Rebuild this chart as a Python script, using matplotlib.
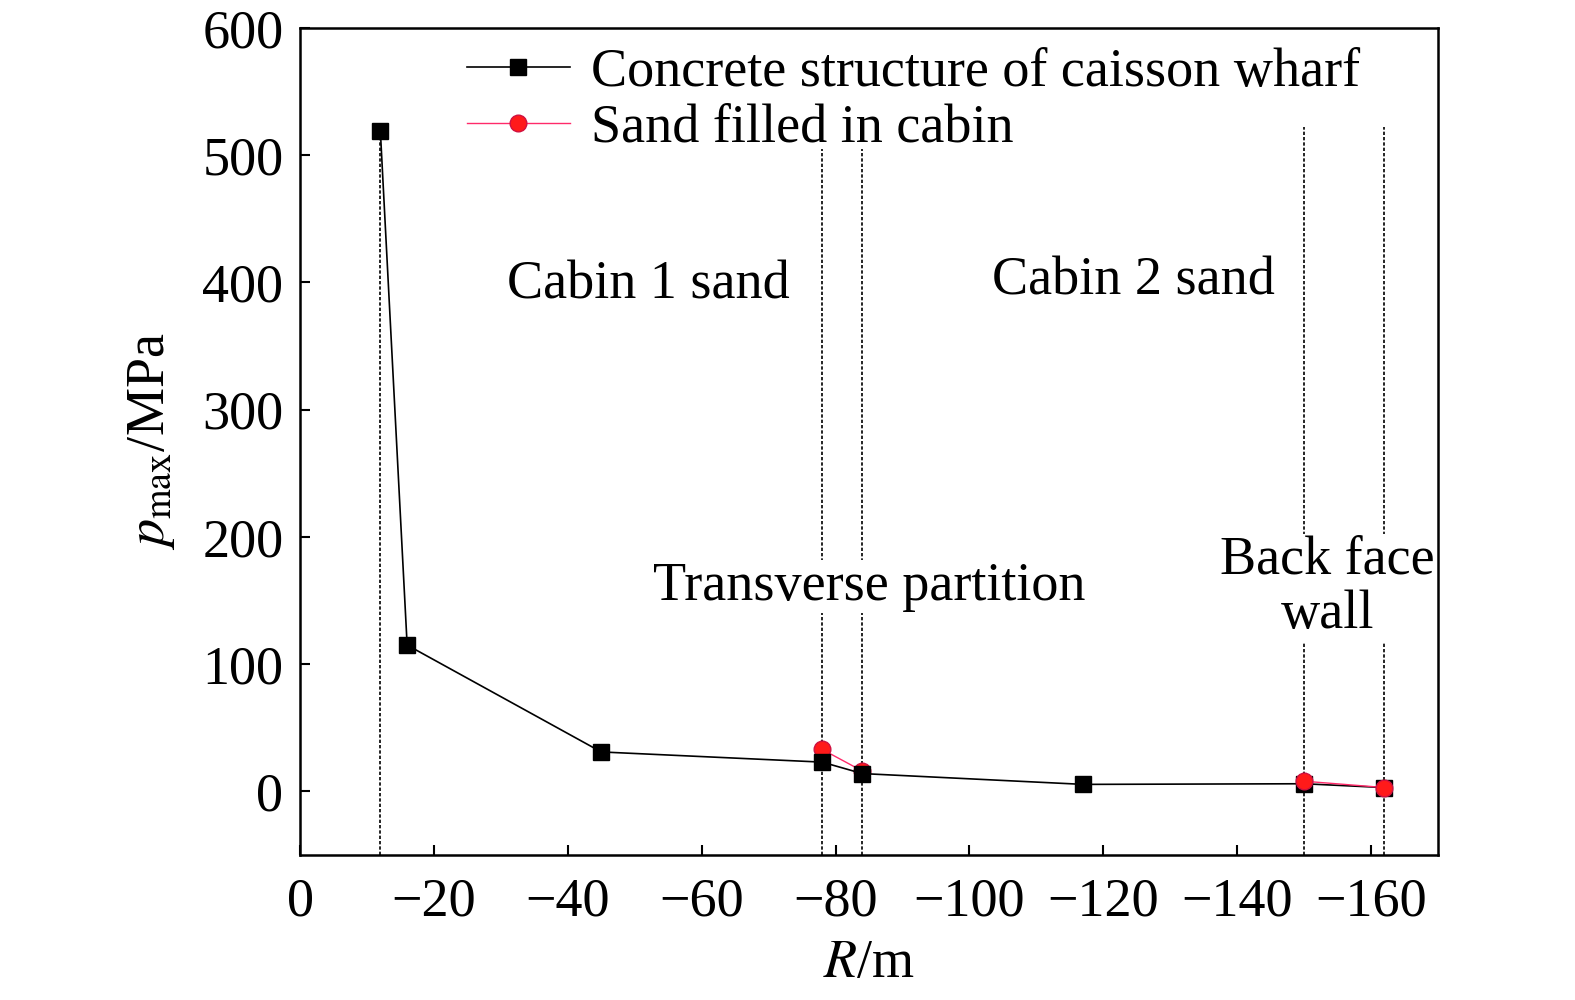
import matplotlib
matplotlib.use("Agg")
import matplotlib.pyplot as plt

# Data
concrete_R = [-12, -16, -45, -78, -84, -117, -150, -162]
concrete_p = [519, 115, 31, 23, 14, 5.5, 6, 3]
sand1_R = [-78, -84]
sand1_p = [33, 16]
sand2_R = [-150, -162]
sand2_p = [8, 3]
boundary_R = [-12, -78, -84, -150, -162]
boundary_top = [520, 505, 505, 522, 522]
xticks = [0, -20, -40, -60, -80, -100, -120, -140, -160]
yticks = [0, 100, 200, 300, 400, 500, 600]

plt.rcParams['font.family'] = ['Liberation Serif', 'DejaVu Serif']
plt.rcParams['mathtext.fontset'] = 'stix'
FS = 39
bg = 'white'

fig = plt.figure(figsize=(15.75, 10), dpi=100, facecolor=bg)
ax = fig.add_axes([0.1905, 0.145, 0.7225, 0.827])
ax.set_facecolor(bg)

ax.vlines(boundary_R, -50, boundary_top, colors='black', linestyles=(0, (2.0, 1.2)),
          linewidth=1.2, zorder=1)

ax.plot(concrete_R, concrete_p, color='black', lw=1.2, marker='s', ms=12,
        mfc='black', mec='black', label='Concrete structure of caisson wharf', zorder=4)
sand_style = dict(color='#ff2a6a', lw=1.0, marker='o', ms=12, mfc='#ff1a1a', mec='#d01040')
ax.plot(sand1_R, sand1_p, label='Sand filled in cabin', zorder=3, **sand_style)
ax.plot(sand2_R, sand2_p, zorder=5, **sand_style)

ax.set_xlim(0, -170)
ax.set_ylim(-50, 600)
ax.set_xticks(xticks)
ax.set_yticks(yticks)
ax.tick_params(direction='in', length=7, width=1.5, labelsize=FS)
ax.tick_params(axis='x', pad=16)
ax.tick_params(axis='y', pad=12)
for s in ax.spines.values():
    s.set_linewidth(1.8)

ax.set_xlabel(r'$R$/m', fontsize=FS, labelpad=8)
ax.set_ylabel(r'$p_{\rm max}$/MPa', fontsize=FS, labelpad=18)

box = dict(facecolor='white', edgecolor='none', pad=1)
ax.text(-52, 398, 'Cabin 1 sand', fontsize=FS, ha='center', va='center', bbox=box, zorder=6)
ax.text(-124.5, 401, 'Cabin 2 sand', fontsize=FS, ha='center', va='center', bbox=box, zorder=6)
ax.text(-85, 161, 'Transverse partition', fontsize=FS, ha='center', va='center', bbox=box, zorder=6)
ax.text(-153.5, 160, 'Back face\nwall', fontsize=FS, ha='center', va='center',
        linespacing=1.1, bbox=box, zorder=6)

leg = ax.legend(loc='upper left', bbox_to_anchor=(0.137, 0.99), fontsize=FS, frameon=False,
                handlelength=1.9, handletextpad=0.4, labelspacing=0.1, borderpad=0.2,
                borderaxespad=0.0)
leg.set_zorder(7)

fig.savefig('out.png', dpi=100, facecolor=bg)
